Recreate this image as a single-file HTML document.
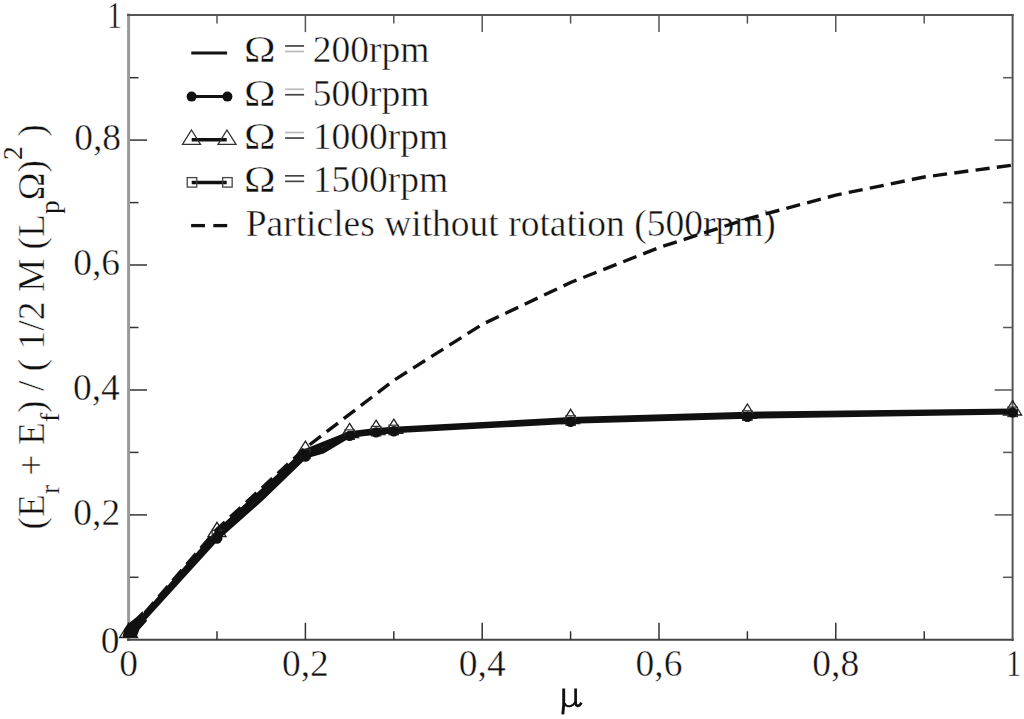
<!DOCTYPE html><html><head><meta charset="utf-8"><style>html,body{margin:0;padding:0;background:#fff;}svg{display:block;}text{font-family:"Liberation Serif",serif;fill:#111;stroke:#fff;stroke-width:0.45px;}</style></head><body>
<svg width="1024" height="719" viewBox="0 0 1024 719">
<rect width="1024" height="719" fill="#fff"/>
<line x1="128.6" y1="13.5" x2="128.6" y2="641" stroke="#999" stroke-width="3"/>
<line x1="127" y1="15.1" x2="1013.6" y2="15.1" stroke="#555" stroke-width="2"/>
<line x1="1012.6" y1="14" x2="1012.6" y2="641" stroke="#555" stroke-width="2"/>
<line x1="127" y1="639.8" x2="1013.6" y2="639.8" stroke="#444" stroke-width="2"/>
<line x1="217.0" y1="639.8" x2="217.0" y2="631.3" stroke="#333" stroke-width="1.5"/>
<line x1="217.0" y1="15.1" x2="217.0" y2="23.6" stroke="#555" stroke-width="1.5"/>
<line x1="130" y1="577.3" x2="138.5" y2="577.3" stroke="#333" stroke-width="1.5"/>
<line x1="1012.6" y1="577.3" x2="1003.1" y2="577.3" stroke="#555" stroke-width="1.5"/>
<line x1="305.4" y1="639.8" x2="305.4" y2="622.8" stroke="#333" stroke-width="1.5"/>
<line x1="305.4" y1="15.1" x2="305.4" y2="32.1" stroke="#555" stroke-width="1.5"/>
<line x1="130" y1="514.9" x2="147.0" y2="514.9" stroke="#333" stroke-width="1.5"/>
<line x1="1012.6" y1="514.9" x2="994.6" y2="514.9" stroke="#555" stroke-width="1.5"/>
<line x1="393.8" y1="639.8" x2="393.8" y2="631.3" stroke="#333" stroke-width="1.5"/>
<line x1="393.8" y1="15.1" x2="393.8" y2="23.6" stroke="#555" stroke-width="1.5"/>
<line x1="130" y1="452.4" x2="138.5" y2="452.4" stroke="#333" stroke-width="1.5"/>
<line x1="1012.6" y1="452.4" x2="1003.1" y2="452.4" stroke="#555" stroke-width="1.5"/>
<line x1="482.2" y1="639.8" x2="482.2" y2="622.8" stroke="#333" stroke-width="1.5"/>
<line x1="482.2" y1="15.1" x2="482.2" y2="32.1" stroke="#555" stroke-width="1.5"/>
<line x1="130" y1="390.0" x2="147.0" y2="390.0" stroke="#333" stroke-width="1.5"/>
<line x1="1012.6" y1="390.0" x2="994.6" y2="390.0" stroke="#555" stroke-width="1.5"/>
<line x1="570.6" y1="639.8" x2="570.6" y2="631.3" stroke="#333" stroke-width="1.5"/>
<line x1="570.6" y1="15.1" x2="570.6" y2="23.6" stroke="#555" stroke-width="1.5"/>
<line x1="130" y1="327.5" x2="138.5" y2="327.5" stroke="#333" stroke-width="1.5"/>
<line x1="1012.6" y1="327.5" x2="1003.1" y2="327.5" stroke="#555" stroke-width="1.5"/>
<line x1="659.0" y1="639.8" x2="659.0" y2="622.8" stroke="#333" stroke-width="1.5"/>
<line x1="659.0" y1="15.1" x2="659.0" y2="32.1" stroke="#555" stroke-width="1.5"/>
<line x1="130" y1="265.0" x2="147.0" y2="265.0" stroke="#333" stroke-width="1.5"/>
<line x1="1012.6" y1="265.0" x2="994.6" y2="265.0" stroke="#555" stroke-width="1.5"/>
<line x1="747.4" y1="639.8" x2="747.4" y2="631.3" stroke="#333" stroke-width="1.5"/>
<line x1="747.4" y1="15.1" x2="747.4" y2="23.6" stroke="#555" stroke-width="1.5"/>
<line x1="130" y1="202.6" x2="138.5" y2="202.6" stroke="#333" stroke-width="1.5"/>
<line x1="1012.6" y1="202.6" x2="1003.1" y2="202.6" stroke="#555" stroke-width="1.5"/>
<line x1="835.8" y1="639.8" x2="835.8" y2="622.8" stroke="#333" stroke-width="1.5"/>
<line x1="835.8" y1="15.1" x2="835.8" y2="32.1" stroke="#555" stroke-width="1.5"/>
<line x1="130" y1="140.1" x2="147.0" y2="140.1" stroke="#333" stroke-width="1.5"/>
<line x1="1012.6" y1="140.1" x2="994.6" y2="140.1" stroke="#555" stroke-width="1.5"/>
<line x1="924.2" y1="639.8" x2="924.2" y2="631.3" stroke="#333" stroke-width="1.5"/>
<line x1="924.2" y1="15.1" x2="924.2" y2="23.6" stroke="#555" stroke-width="1.5"/>
<line x1="130" y1="77.7" x2="138.5" y2="77.7" stroke="#333" stroke-width="1.5"/>
<line x1="1012.6" y1="77.7" x2="1003.1" y2="77.7" stroke="#555" stroke-width="1.5"/>
<polyline points="128.6,632.7 217.0,531.8 305.4,450.6 349.6,432.9 376.1,429.7 393.8,428.6 570.6,418.8 747.4,413.5 1012.6,410.2" fill="none" stroke="#111" stroke-width="3.5" stroke-linejoin="round"/>
<path d="M128.6,623.2 L137.6,637.5 L119.6,637.5 Z" fill="none" stroke="#222" stroke-width="1.3"/>
<path d="M217.0,522.3 L226.0,536.6 L208.0,536.6 Z" fill="none" stroke="#222" stroke-width="1.3"/>
<path d="M305.4,441.1 L314.4,455.4 L296.4,455.4 Z" fill="none" stroke="#222" stroke-width="1.3"/>
<path d="M349.6,423.4 L358.6,437.7 L340.6,437.7 Z" fill="none" stroke="#222" stroke-width="1.3"/>
<path d="M376.1,420.2 L385.1,434.5 L367.1,434.5 Z" fill="none" stroke="#222" stroke-width="1.3"/>
<path d="M393.8,419.1 L402.8,433.4 L384.8,433.4 Z" fill="none" stroke="#222" stroke-width="1.3"/>
<path d="M570.6,409.3 L579.6,423.6 L561.6,423.6 Z" fill="none" stroke="#222" stroke-width="1.3"/>
<path d="M747.4,404.0 L756.4,418.3 L738.4,418.3 Z" fill="none" stroke="#222" stroke-width="1.3"/>
<path d="M1012.6,400.7 L1021.6,415.0 L1003.6,415.0 Z" fill="none" stroke="#222" stroke-width="1.3"/>
<polyline points="296.6,459.6 305.4,452.4 349.6,434.0 358.4,433.1" fill="none" stroke="#111" stroke-width="4" stroke-linejoin="round"/>
<polyline points="128.6,634.2 217.0,534.9 305.4,454.0 323.1,449.0 349.6,434.6 376.1,431.2 393.8,429.9 570.6,420.6 747.4,415.6 1012.6,411.8" fill="none" stroke="#111" stroke-width="3.5" stroke-linejoin="round"/>
<rect x="212.2" y="530.1" width="9.5" height="9.5" fill="none" stroke="#333" stroke-width="1.2"/>
<rect x="300.6" y="449.2" width="9.5" height="9.5" fill="none" stroke="#333" stroke-width="1.2"/>
<rect x="344.9" y="429.9" width="9.5" height="9.5" fill="none" stroke="#333" stroke-width="1.2"/>
<rect x="371.4" y="426.4" width="9.5" height="9.5" fill="none" stroke="#333" stroke-width="1.2"/>
<rect x="389.0" y="425.2" width="9.5" height="9.5" fill="none" stroke="#333" stroke-width="1.2"/>
<rect x="565.9" y="415.8" width="9.5" height="9.5" fill="none" stroke="#333" stroke-width="1.2"/>
<rect x="742.6" y="410.8" width="9.5" height="9.5" fill="none" stroke="#333" stroke-width="1.2"/>
<rect x="1007.9" y="407.1" width="9.5" height="9.5" fill="none" stroke="#333" stroke-width="1.2"/>
<polyline points="128.6,635.9 217.0,538.6 261.2,499.3 305.4,456.5 323.1,451.5 349.6,435.9 376.1,432.4 393.8,431.2 570.6,421.8 747.4,416.8 1012.6,412.4" fill="none" stroke="#111" stroke-width="4" stroke-linejoin="round"/>
<circle cx="217.0" cy="538.6" r="5.2" fill="#111"/>
<circle cx="305.4" cy="456.5" r="5.2" fill="#111"/>
<circle cx="349.6" cy="435.9" r="5.2" fill="#111"/>
<circle cx="376.1" cy="432.4" r="5.2" fill="#111"/>
<circle cx="393.8" cy="431.2" r="5.2" fill="#111"/>
<circle cx="570.6" cy="421.8" r="5.2" fill="#111"/>
<circle cx="747.4" cy="416.8" r="5.2" fill="#111"/>
<circle cx="1012.6" cy="412.4" r="5.2" fill="#111"/>
<path d="M122.5,637.3 L136.5,637.3 L139.5,629.5 L147,621 L142.5,611.2 L136.3,617.2 L128.8,623.3 L124,630 Z" fill="#111"/>
<text x="119.5" y="652.5" font-size="37.5" text-anchor="end">0</text>
<text x="120.2" y="524.6" font-size="37.5" text-anchor="end">0,2</text>
<text x="119.8" y="399.7" font-size="37.5" text-anchor="end">0,4</text>
<text x="120" y="275.2" font-size="37.5" text-anchor="end">0,6</text>
<text x="121" y="149.8" font-size="37.5" text-anchor="end">0,8</text>
<text x="0" y="0" font-size="37.5" text-anchor="middle" transform="translate(114.4 27.9) scale(0.8 1)">1</text>
<text x="128.6" y="675.5" font-size="37.5" text-anchor="middle">0</text>
<text x="305.4" y="675.5" font-size="37.5" text-anchor="middle">0,2</text>
<text x="482.2" y="675.5" font-size="37.5" text-anchor="middle">0,4</text>
<text x="659.0" y="675.5" font-size="37.5" text-anchor="middle">0,6</text>
<text x="835.8" y="675.5" font-size="37.5" text-anchor="middle">0,8</text>
<text x="0" y="0" font-size="37.5" text-anchor="middle" transform="translate(1013.8 675.5) scale(0.8 1)">1</text>
<g fill="none" stroke="#111" stroke-linecap="butt"><path d="M563.7,688.4 L563.7,705 L562.8,714.3" stroke-width="2.9"/><path d="M564.5,703 C566,707.6 572.5,707.6 575.6,701.5" stroke-width="2.1"/><path d="M575.6,688.4 L575.6,702.5 C575.8,706.8 579,707.2 581.4,702.6" stroke-width="2.7"/></g>
<text x="0" y="0" font-size="37.5" transform="translate(244.0 62.3) scale(1.133 1)">&#937;</text>
<text x="312.8" y="62.3" font-size="37.5">200rpm</text>
<rect x="285.1" y="45.1" width="19" height="1.7" fill="#444"/>
<rect x="285.1" y="50.6" width="19" height="1.7" fill="#bbb"/>
<text x="0" y="0" font-size="37.5" transform="translate(244.0 105.6) scale(1.133 1)">&#937;</text>
<text x="312.8" y="105.6" font-size="37.5">500rpm</text>
<rect x="285.1" y="88.4" width="19" height="1.7" fill="#bbb"/>
<rect x="285.1" y="93.9" width="19" height="1.7" fill="#444"/>
<text x="0" y="0" font-size="37.5" transform="translate(244.0 148.9) scale(1.133 1)">&#937;</text>
<text x="312.8" y="148.9" font-size="37.5">1000rpm</text>
<rect x="285.1" y="131.7" width="19" height="1.7" fill="#bbb"/>
<rect x="285.1" y="137.2" width="19" height="1.7" fill="#444"/>
<text x="0" y="0" font-size="37.5" transform="translate(244.0 192.2) scale(1.133 1)">&#937;</text>
<text x="312.8" y="192.2" font-size="37.5">1500rpm</text>
<rect x="285.1" y="175.0" width="19" height="1.7" fill="#444"/>
<rect x="285.1" y="180.5" width="19" height="1.7" fill="#444"/>
<text x="245.7" y="235.5" font-size="37.5">Particles without rotation (500rpm)</text>
<line x1="191.3" y1="53.1" x2="227.1" y2="53.1" stroke="#111" stroke-width="3"/>
<line x1="191.6" y1="96.6" x2="227.4" y2="96.6" stroke="#111" stroke-width="3"/>
<circle cx="191.6" cy="96.6" r="5" fill="#111"/><circle cx="227.4" cy="96.6" r="5" fill="#111"/>
<line x1="191.7" y1="139.8" x2="226.7" y2="139.8" stroke="#111" stroke-width="3.5"/>
<path d="M191.5,130 L200.5,144.3 L182.5,144.3 Z" fill="none" stroke="#333" stroke-width="1.3"/>
<path d="M227.0,130 L236.0,144.3 L218.0,144.3 Z" fill="none" stroke="#333" stroke-width="1.3"/>
<line x1="191.7" y1="182.6" x2="226.7" y2="182.6" stroke="#111" stroke-width="3.5"/>
<rect x="187.25" y="177.6" width="9.5" height="9.5" fill="none" stroke="#444" stroke-width="1.3"/>
<rect x="222.65" y="177.6" width="9.5" height="9.5" fill="none" stroke="#444" stroke-width="1.3"/>
<line x1="191.1" y1="225.6" x2="205" y2="225.6" stroke="#111" stroke-width="3.3"/>
<line x1="213.3" y1="225.6" x2="227.2" y2="225.6" stroke="#111" stroke-width="3.3"/>
<polyline points="128.6,631.7 217.0,529.2 305.4,448.0 393.8,380.4 482.2,324.4 570.6,282.5 659.0,247.6 747.4,218.8 835.8,195.1 924.2,177.0 1012.6,165.1" fill="none" stroke="#111" stroke-width="3.4" stroke-dasharray="14.2 7.27" stroke-dashoffset="18.37"/>
<text transform="translate(44.2 529.5) rotate(-90)" font-size="37.5" xml:space="preserve">(E<tspan font-size="27.5" style="stroke-width:0.15px" dy="15">r</tspan><tspan dy="-15"> + E</tspan><tspan font-size="27.5" style="stroke-width:0.15px" dy="15">f</tspan><tspan dy="-15">) / ( 1/2 M (L</tspan><tspan font-size="27.5" style="stroke-width:0.15px" dy="15">p</tspan><tspan dy="-15">&#937;)</tspan><tspan font-size="27.5" style="stroke-width:0.15px" dy="-22.5">2</tspan><tspan dy="22.5"> )</tspan></text>
</svg></body></html>
